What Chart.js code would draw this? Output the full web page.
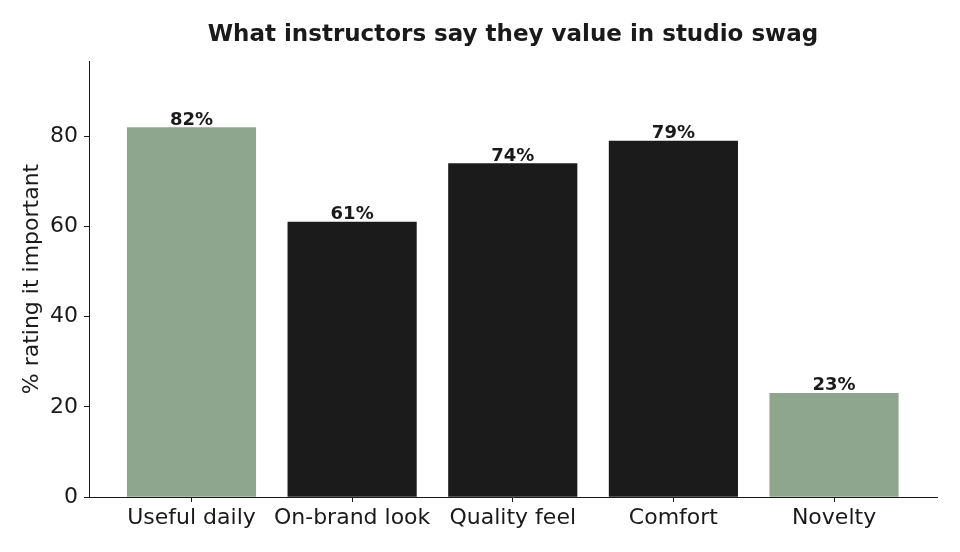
<!DOCTYPE html>
<html>
<head>
<meta charset="utf-8">
<script src="https://cdn.jsdelivr.net/npm/chart.js@4/dist/chart.umd.min.js"></script>
<style>
    body { margin: 0; background: #ffffff; }
    canvas { display: block; }
</style>
</head>
<body>
<canvas id="chart" width="960" height="552"></canvas>
<script>
const chartTitle = "What instructors say they value in studio swag";
const categories = ["Useful daily", "On-brand look", "Quality feel", "Comfort", "Novelty"];
const values = [82, 61, 74, 79, 23];
const yTicks = [0, 20, 40, 60, 80];

const green = "#8fa68e";
const black = "#1b1b1b";
const barColors = [green, black, black, black, green];
const textColor = "#1a1a1a";
const font = "'DejaVu Sans', sans-serif";

// value labels above each bar
const valueLabels = {
    id: "valueLabels",
    afterDatasetsDraw(chart) {
        const ctx = chart.ctx;
        const meta = chart.getDatasetMeta(0);
        ctx.save();
        ctx.font = "bold 18px " + font;
        ctx.fillStyle = textColor;
        ctx.textAlign = "center";
        ctx.textBaseline = "alphabetic";
        meta.data.forEach(function (bar, i) {
            ctx.fillText(values[i] + "%", bar.x, bar.y - 3);
        });
        ctx.restore();
    }
};

// title centred over the plot area
const axesTitle = {
    id: "axesTitle",
    afterDraw(chart) {
        const ctx = chart.ctx;
        const area = chart.chartArea;
        ctx.save();
        ctx.font = "bold 23px " + font;
        ctx.fillStyle = textColor;
        ctx.textAlign = "center";
        ctx.textBaseline = "middle";
        ctx.fillText(chartTitle, (area.left + area.right) / 2, 35);
        ctx.restore();
    }
};

new Chart(document.getElementById("chart"), {
    type: "bar",
    data: {
        datasets: [{
            data: values.map(function (v, i) { return { x: i, y: v }; }),
            backgroundColor: barColors,
            barThickness: 128.5,
            borderWidth: 0
        }]
    },
    options: {
        responsive: false,
        animation: false,
        layout: { padding: { top: 61, right: 23, left: 0, bottom: 0 } },
        plugins: {
            legend: { display: false },
            tooltip: { enabled: false },
            title: { display: false }
        },
        scales: {
            x: {
                type: "linear",
                offset: false,
                min: -0.638,
                max: 4.641,
                afterFit(scale) { scale.height = 55; },
                afterBuildTicks(scale) {
                    scale.ticks = categories.map(function (c, i) { return { value: i }; });
                },
                ticks: {
                    callback: function (value) { return categories[value]; },
                    font: { family: font, size: 22 },
                    color: textColor,
                    padding: 3,
                    maxRotation: 0,
                    autoSkip: false
                },
                grid: {
                    offset: false,
                    drawOnChartArea: false,
                    drawTicks: true,
                    tickLength: 5,
                    tickWidth: 1,
                    color: textColor
                },
                border: { display: true, color: textColor, width: 1 }
            },
            y: {
                min: 0,
                max: 96.76,
                afterFit(scale) { scale.width = 89; },
                afterBuildTicks(scale) {
                    scale.ticks = yTicks.map(function (v) { return { value: v }; });
                },
                ticks: {
                    font: { family: font, size: 22 },
                    color: textColor,
                    padding: 6
                },
                grid: {
                    drawOnChartArea: false,
                    drawTicks: true,
                    tickLength: 5,
                    tickWidth: 1,
                    color: textColor
                },
                border: { display: true, color: textColor, width: 1 },
                title: {
                    display: true,
                    text: "% rating it important",
                    font: { family: font, size: 22 },
                    color: textColor,
                    padding: { top: 19, bottom: 0 }
                }
            }
        }
    },
    plugins: [valueLabels, axesTitle]
});
</script>
</body>
</html>
